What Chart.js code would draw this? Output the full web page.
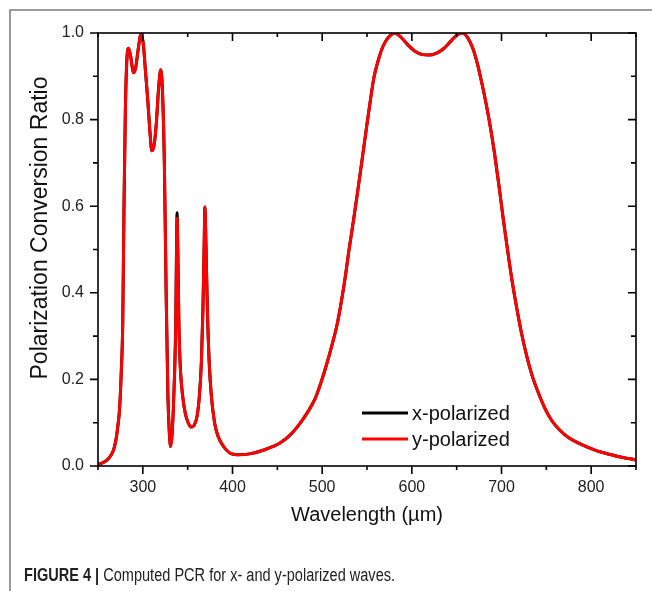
<!DOCTYPE html>
<html>
<head>
<meta charset="utf-8">
<script src="https://cdn.jsdelivr.net/npm/chart.js@4.4.1/dist/chart.umd.min.js"></script>
<style>
  html, body { margin: 0; padding: 0; background: #fff; }
  #wrap { position: relative; width: 652px; height: 591px; overflow: hidden; }
  #frame {
    position: absolute; left: 9px; top: 9px; width: 700px; height: 700px;
    border-top: 2px solid #9a9a9a; border-left: 2px solid #9a9a9a;
  }
  #pcrChart { position: absolute; left: 0; top: 0; }
  #caption {
    position: absolute; left: 24px; top: 565px; white-space: nowrap;
    font: 18px "Liberation Sans", Arial, sans-serif; color: #222;
    transform-origin: left center;
  }
  #caption b { font-weight: bold; }
</style>
</head>
<body>
<div id="wrap">
  <div id="frame"></div>
  <canvas id="pcrChart" width="652" height="591"></canvas>
  <div id="caption"><b>FIGURE 4 |</b> Computed PCR for x- and y-polarized waves.</div>
</div>
<script>
// ===========================
// DỮ LIỆU PCR
// ===========================

const wavelength = [
  250, 256, 262, 267, 270, 272, 274, 276, 277.6, 279, 280.5, 282, 284, 286.5, 289.5,
  292, 295, 298, 300.5, 303, 305.5, 308, 310, 312.5, 315, 317.5, 320, 322, 324, 326,
  328, 329.5, 331, 332.5, 334, 335.5, 336.7, 337.5, 338.2, 339, 340.3, 342, 344.8,
  347.5, 350.5, 354, 357.5, 360.5, 363, 365.3, 367, 368.3, 369.3, 370.3, 372, 374,
  376.5, 380, 384, 390, 397, 405, 419, 435, 453, 465, 475.5, 484, 492, 499, 505, 511,
  516.5, 521, 525.8, 530, 535, 540, 544.5, 549, 553.8, 558, 563, 568, 574, 581, 588,
  596, 604, 612, 619, 627, 635, 643, 650, 656.5, 662, 668, 673, 678, 683, 687, 692,
  697, 702, 707, 712, 717, 722, 728, 734, 740, 748, 756, 764, 775, 789, 805, 815, 830, 850
];

// y-polarized
const pcrY = [
  0.004, 0.008, 0.018, 0.035, 0.06, 0.09, 0.13, 0.22, 0.33, 0.6, 0.82, 0.93, 0.965, 0.945, 0.908,
  0.92, 0.965, 0.998, 0.975, 0.91, 0.845, 0.77, 0.728, 0.74, 0.79, 0.87, 0.915, 0.86, 0.70, 0.40,
  0.16, 0.08, 0.045, 0.07, 0.13, 0.22, 0.33, 0.48, 0.572, 0.50, 0.32, 0.22, 0.155,
  0.12, 0.10, 0.09, 0.095, 0.115, 0.16, 0.24, 0.36, 0.50, 0.598, 0.52, 0.36, 0.24,
  0.16, 0.10, 0.068, 0.045, 0.030, 0.026, 0.028, 0.037, 0.053, 0.073, 0.099, 0.125, 0.155, 0.195, 0.235, 0.28,
  0.325, 0.375, 0.437, 0.50, 0.568, 0.64, 0.707, 0.775, 0.845, 0.90, 0.94, 0.97, 0.99, 1.0, 0.99,
  0.972, 0.957, 0.95, 0.949, 0.953, 0.963, 0.98, 0.995, 1.0, 0.99, 0.965, 0.93, 0.885, 0.835, 0.79, 0.725,
  0.65, 0.57, 0.495, 0.425, 0.365, 0.31, 0.255, 0.21, 0.175, 0.135, 0.105, 0.085, 0.065, 0.05, 0.036, 0.03, 0.022, 0.014
];

// x-polarized (trùng y-polarized, chỉ khác nhẹ ở đỉnh 338 µm)
const pcrX = [
  0.004, 0.008, 0.018, 0.035, 0.06, 0.09, 0.13, 0.22, 0.33, 0.6, 0.82, 0.93, 0.965, 0.945, 0.908,
  0.92, 0.965, 0.998, 0.975, 0.91, 0.845, 0.77, 0.728, 0.74, 0.79, 0.87, 0.915, 0.86, 0.70, 0.40,
  0.16, 0.08, 0.045, 0.07, 0.13, 0.22, 0.33, 0.49, 0.585, 0.50, 0.32, 0.22, 0.155,
  0.12, 0.10, 0.09, 0.095, 0.115, 0.16, 0.24, 0.36, 0.50, 0.598, 0.52, 0.36, 0.24,
  0.16, 0.10, 0.068, 0.045, 0.030, 0.026, 0.028, 0.037, 0.053, 0.073, 0.099, 0.125, 0.155, 0.195, 0.235, 0.28,
  0.325, 0.375, 0.437, 0.50, 0.568, 0.64, 0.707, 0.775, 0.845, 0.90, 0.94, 0.97, 0.99, 1.0, 0.99,
  0.972, 0.957, 0.95, 0.949, 0.953, 0.963, 0.98, 0.995, 1.0, 0.99, 0.965, 0.93, 0.885, 0.835, 0.79, 0.725,
  0.65, 0.57, 0.495, 0.425, 0.365, 0.31, 0.255, 0.21, 0.175, 0.135, 0.105, 0.085, 0.065, 0.05, 0.036, 0.03, 0.022, 0.014
];

const seriesLabels = ["x-polarized", "y-polarized"];
const seriesColors = ["#000000", "#ff0000"];
const yTitle = "Polarization Conversion Ratio";

const FONT = "'Liberation Sans', Arial, sans-serif";

// Khung + vạch chia (ngoài ở trái/dưới, trong ở trên/phải) + chú thích + tên trục y
const frameTicks = {
  id: "frameTicks",
  afterDatasetsDraw(chart) {
    const { ctx, chartArea: a, scales } = chart;
    ctx.save();
    ctx.strokeStyle = "#000";
    ctx.lineWidth = 1.6;
    ctx.strokeRect(a.left, a.top, a.right - a.left, a.bottom - a.top);

    scales.x.ticks.forEach((t) => {
      const px = scales.x.getPixelForValue(t.value);
      const len = t.value % 100 === 0 ? 8 : 4;
      ctx.beginPath();
      ctx.moveTo(px, a.bottom);
      ctx.lineTo(px, a.bottom + len);
      ctx.moveTo(px, a.top);
      ctx.lineTo(px, a.top + len);
      ctx.stroke();
    });
    scales.y.ticks.forEach((t) => {
      const py = scales.y.getPixelForValue(t.value);
      const len = Math.round(t.value * 10) % 2 === 0 ? 8 : 5;
      ctx.beginPath();
      ctx.moveTo(a.left, py);
      ctx.lineTo(a.left - len, py);
      ctx.moveTo(a.right, py);
      ctx.lineTo(a.right - len, py);
      ctx.stroke();
    });

    // Chú thích
    ctx.font = "20px " + FONT;
    ctx.textBaseline = "middle";
    ctx.lineWidth = 3;
    seriesLabels.forEach((lbl, i) => {
      const y = 413 + i * 26;
      ctx.strokeStyle = seriesColors[i];
      ctx.beginPath();
      ctx.moveTo(362, y);
      ctx.lineTo(408, y);
      ctx.stroke();
      ctx.fillStyle = "#111";
      ctx.fillText(lbl, 412, y + 1);
    });

    // Tên trục y (hơi lệch lên trên như hình gốc)
    ctx.translate(41, 228);
    ctx.rotate(-Math.PI / 2);
    ctx.font = "23px " + FONT;
    ctx.textAlign = "center";
    ctx.fillStyle = "#111";
    ctx.fillText(yTitle, 0, 0);
    ctx.restore();
  },
};

function initChart() {
  const ctx = document.getElementById("pcrChart");
  new Chart(ctx.getContext("2d"), {
    type: "line",
    data: {
      datasets: [
        {
          label: seriesLabels[0],
          data: wavelength.map((w, i) => ({ x: w, y: pcrX[i] })),
          borderColor: seriesColors[0],
          borderWidth: 3,
          pointRadius: 0,
          cubicInterpolationMode: "monotone",
          order: 1,
        },
        {
          label: seriesLabels[1],
          data: wavelength.map((w, i) => ({ x: w, y: pcrY[i] })),
          borderColor: seriesColors[1],
          borderWidth: 3,
          pointRadius: 0,
          cubicInterpolationMode: "monotone",
          order: 0,
        },
      ],
    },
    options: {
      responsive: false,
      animation: false,
      layout: { padding: { top: 33, right: 16, left: 0, bottom: 0 } },
      plugins: { legend: { display: false }, tooltip: { enabled: false } },
      scales: {
        x: {
          type: "linear",
          min: 250,
          max: 850,
          afterFit: (s) => { s.height = 125; },
          grid: { display: false, drawTicks: false },
          border: { display: false },
          ticks: {
            stepSize: 50,
            padding: 12,
            autoSkip: false,
            maxRotation: 0,
            color: "#222",
            font: { family: FONT, size: 16 },
            callback: (v) => (v % 100 === 0 ? String(v) : ""),
          },
          title: {
            display: true,
            text: "Wavelength (µm)",
            color: "#111",
            font: { family: FONT, size: 20 },
            padding: { top: 0, bottom: 64 },
          },
        },
        y: {
          min: 0,
          max: 1,
          afterFit: (s) => { s.width = 98; },
          grid: { display: false, drawTicks: false },
          border: { display: false },
          ticks: {
            stepSize: 0.1,
            padding: 14,
            autoSkip: false,
            color: "#222",
            font: { family: FONT, size: 16 },
            callback: (v) => (Math.round(v * 10) % 2 === 0 ? v.toFixed(1) : ""),
          },
        },
      },
    },
    plugins: [frameTicks],
  });
}

initChart();

// Chú thích hình: chữ hẹp, ép vừa bề rộng như hình gốc
const cap = document.getElementById("caption");
cap.style.transform = "scaleX(" + (371 / cap.offsetWidth).toFixed(3) + ")";
</script>
</body>
</html>
